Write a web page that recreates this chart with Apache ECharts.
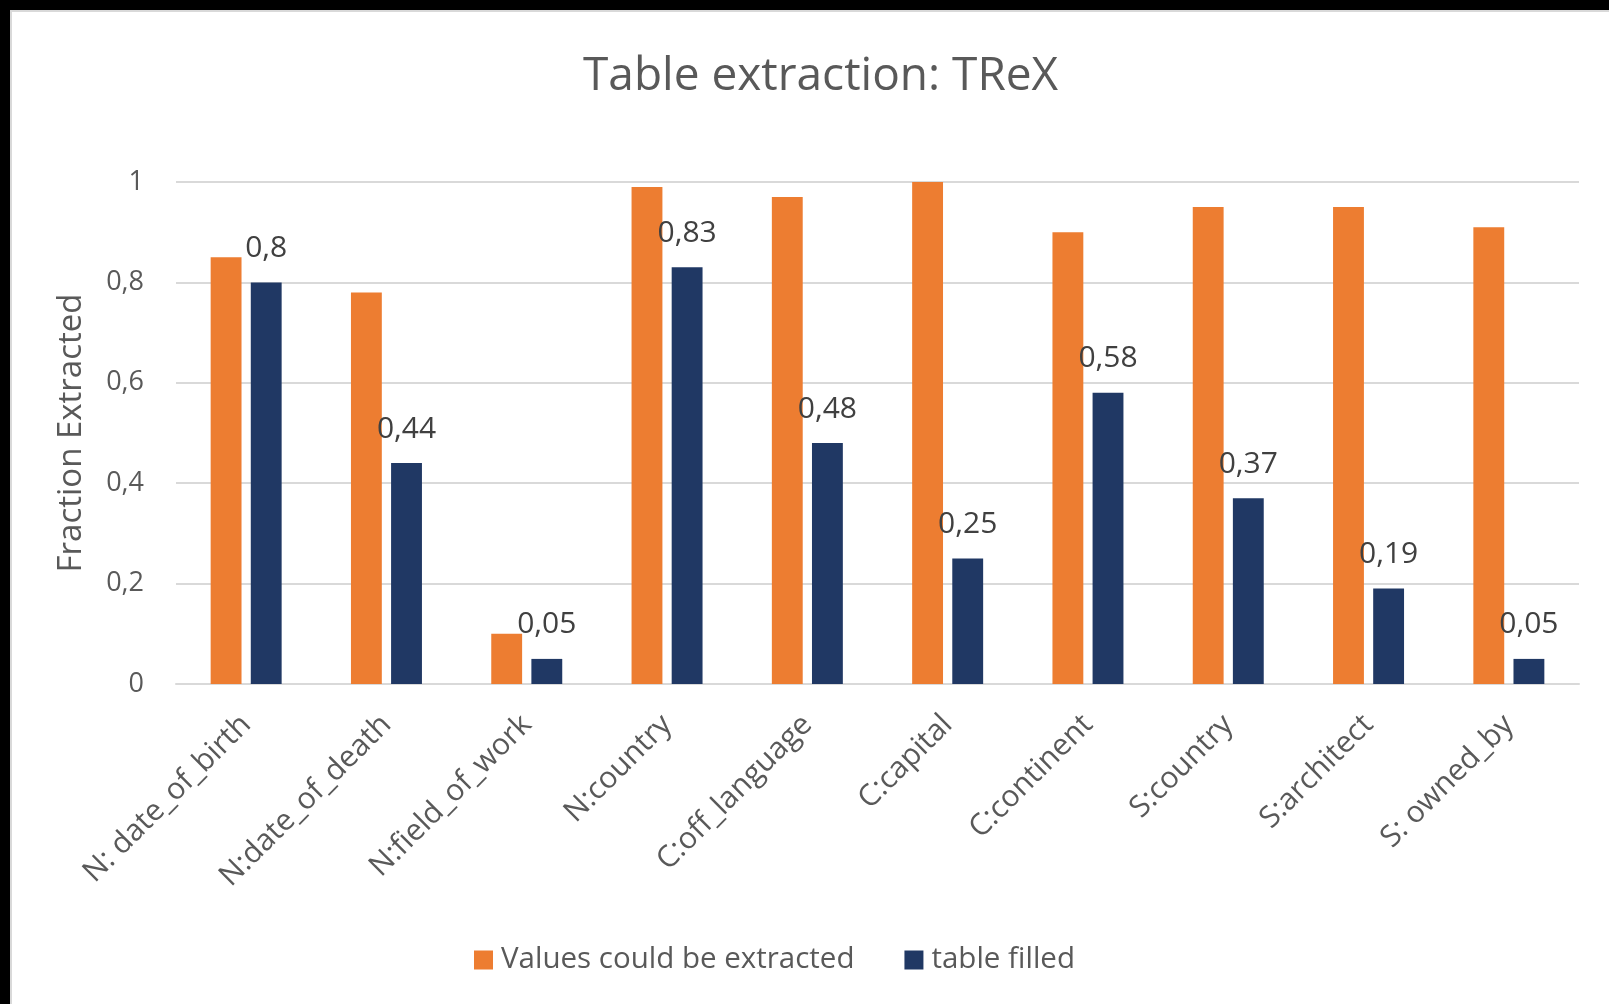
<!DOCTYPE html>
<html>
<head>
<meta charset="utf-8">
<title>Table extraction: TReX</title>
<script src="https://cdn.jsdelivr.net/npm/echarts@6/dist/echarts.min.js"></script>
<style>
  html, body { margin: 0; padding: 0; background: #ffffff; }
  #chart { width: 1609px; height: 1004px; }
</style>
</head>
<body>
<div id="chart"></div>
<script>
// Relations checked in the TReX table-extraction run
const categories = [
  'N: date_of_birth', 'N:date_of_death', 'N:field_of_work', 'N:country',
  'C:off_language', 'C:capital', 'C:continent', 'S:country',
  'S:architect', 'S: owned_by'
];
// Share of values that could be extracted per relation
const valuesExtracted = [0.85, 0.78, 0.10, 0.99, 0.97, 1.00, 0.90, 0.95, 0.95, 0.91];
// Share of the table actually filled per relation
const tableFilled = [0.80, 0.44, 0.05, 0.83, 0.48, 0.25, 0.58, 0.37, 0.19, 0.05];
const yTicks = [0, 0.2, 0.4, 0.6, 0.8, 1];

const FONT = "'Open Sans', 'Noto Sans', sans-serif";
const TEXT = '#595959';
const comma = v => String(+v.toFixed(2)).replace('.', ',');

const chart = echarts.init(document.getElementById('chart'), null, { renderer: 'canvas' });

chart.setOption({
  backgroundColor: '#ffffff',
  textStyle: { fontFamily: FONT, color: TEXT },
  title: {
    text: 'Table extraction: TReX',
    left: 578,
    top: 49,
    textStyle: { fontFamily: FONT, fontSize: 46, fontWeight: 'normal', color: TEXT }
  },
  legend: {
    left: 469,
    top: 940,
    itemWidth: 19,
    itemHeight: 19,
    itemGap: 50,
    icon: 'rect',
    textStyle: { fontFamily: FONT, fontSize: 29.5, color: TEXT, padding: [0, 0, 0, 3] },
    data: ['Values could be extracted', 'table filled']
  },
  grid: { left: 176, right: 30, top: 182, bottom: 320, containLabel: false },
  xAxis: {
    type: 'category',
    data: categories,
    axisLine: { show: true, lineStyle: { color: '#d9d9d9', width: 2 } },
    axisTick: { show: false },
    axisLabel: {
      rotate: 45,
      interval: 0,
      margin: 36,
      fontFamily: FONT,
      fontSize: 30,
      color: TEXT
    }
  },
  yAxis: {
    type: 'value',
    min: 0,
    max: 1,
    interval: 0.2,
    name: 'Fraction Extracted',
    nameLocation: 'middle',
    nameRotate: 90,
    nameGap: 88,
    nameTextStyle: { fontFamily: FONT, fontSize: 33, color: TEXT },
    axisLine: { show: false },
    axisTick: { show: false },
    splitLine: { lineStyle: { color: '#d9d9d9', width: 2 } },
    axisLabel: {
      margin: 32,
      fontFamily: FONT,
      fontSize: 27,
      color: TEXT,
      formatter: v => yTicks.includes(+v.toFixed(2)) ? comma(v) : ''
    }
  },
  series: [
    {
      name: 'Values could be extracted',
      type: 'bar',
      data: valuesExtracted,
      barWidth: '22%',
      barGap: '30%',
      itemStyle: { color: '#ED7D31' }
    },
    {
      name: 'table filled',
      type: 'bar',
      data: tableFilled,
      barWidth: '22%',
      itemStyle: { color: '#203864' },
      label: {
        show: true,
        position: 'top',
        distance: 19,
        fontFamily: FONT,
        fontSize: 30,
        color: '#404040',
        formatter: p => comma(p.value)
      }
    }
  ],
  graphic: [
    // frame of the chart area: dark edges with a thin light rule inside
    { type: 'rect', left: 0, top: 0, shape: { width: 1609, height: 10 }, style: { fill: '#000000' }, silent: true },
    { type: 'rect', left: 0, top: 0, shape: { width: 10, height: 1004 }, style: { fill: '#000000' }, silent: true },
    { type: 'line', shape: { x1: 10, y1: 11, x2: 1609, y2: 11 }, style: { stroke: '#d9d9d9', lineWidth: 2 }, silent: true },
    { type: 'line', shape: { x1: 11, y1: 10, x2: 11, y2: 1004 }, style: { stroke: '#d9d9d9', lineWidth: 2 }, silent: true }
  ]
});
</script>
</body>
</html>
